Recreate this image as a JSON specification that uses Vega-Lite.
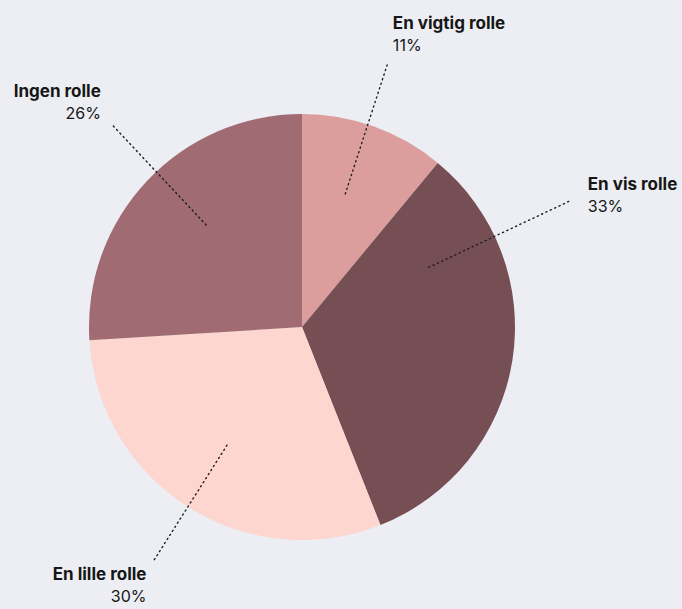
{
  "$schema": "https://vega.github.io/schema/vega-lite/v6.json",
  "width": 604,
  "height": 564,
  "autosize": {"type": "none"},
  "padding": {"left": 0, "top": 45, "right": 78, "bottom": 0},
  "background": "#eceef3",
  "config": {"view": {"stroke": null}, "font": "Inter"},
  "data": {
    "values": [
      {"category": "En vigtig rolle", "value": 11, "rank": 1},
      {"category": "En vis rolle", "value": 33, "rank": 2},
      {"category": "En lille rolle", "value": 30, "rank": 3},
      {"category": "Ingen rolle", "value": 26, "rank": 4}
    ]
  },
  "transform": [
    {"stack": "value", "groupby": [], "sort": [{"field": "rank", "order": "ascending"}], "as": ["v0", "v1"]},
    {"calculate": "(datum.v0 + datum.v1) / 2 + (datum.category === 'En vis rolle' ? -9.5 : datum.category === 'Ingen rolle' ? 1 : datum.category === 'En vigtig rolle' ? -0.5 : 0)", "as": "labelPos"},
    {"calculate": "datum.labelPos / 100 * 2 * PI", "as": "ang"},
    {"calculate": "140 * sin(datum.ang)", "as": "lx1"},
    {"calculate": "140 * cos(datum.ang)", "as": "ly1"},
    {"calculate": "(datum.category === 'En vis rolle' ? 298 : 277) * sin(datum.ang)", "as": "lx2"},
    {"calculate": "(datum.category === 'En vis rolle' ? 298 : 277) * cos(datum.ang)", "as": "ly2"},
    {"calculate": "datum.value + '%'", "as": "pct"}
  ],
  "layer": [
    {
      "mark": {"type": "arc", "outerRadius": 213},
      "encoding": {
        "theta": {"field": "v0", "type": "quantitative", "stack": null, "scale": {"domain": [0, 100]}},
        "theta2": {"field": "v1"},
        "color": {
          "field": "category",
          "type": "nominal",
          "scale": {
            "domain": ["En vigtig rolle", "En vis rolle", "En lille rolle", "Ingen rolle"],
            "range": ["#dc9e9c", "#764f55", "#fcd6cf", "#a06b73"]
          },
          "legend": null
        }
      }
    },
    {
      "mark": {"type": "rule", "stroke": "#1e1e1e", "strokeWidth": 1.4, "strokeDash": [1.2, 3.6], "strokeCap": "round"},
      "encoding": {
        "x": {"field": "lx1", "type": "quantitative", "scale": {"domain": [-302, 302], "nice": false, "zero": false}, "axis": null},
        "y": {"field": "ly1", "type": "quantitative", "scale": {"domain": [-282, 282], "nice": false, "zero": false}, "axis": null},
        "x2": {"field": "lx2"},
        "y2": {"field": "ly2"}
      }
    },
    {
      "mark": {
        "type": "text",
        "radius": 307,
        "fontSize": 17,
        "fontWeight": 700,
        "color": "#161616",
        "baseline": "alphabetic",
        "dy": -6,
        "dx": {"expr": "datum.labelPos < 50 ? (datum.category === 'En vis rolle' ? 8 : -4) : 9"},
        "align": {"expr": "datum.labelPos < 50 ? 'left' : 'right'"}
      },
      "encoding": {
        "theta": {"field": "labelPos", "type": "quantitative", "stack": null, "scale": {"domain": [0, 100]}},
        "text": {"field": "category", "type": "nominal"}
      }
    },
    {
      "mark": {
        "type": "text",
        "radius": 307,
        "fontSize": 16,
        "fontWeight": 400,
        "color": "#161616",
        "baseline": "alphabetic",
        "dy": 16,
        "dx": {"expr": "datum.labelPos < 50 ? (datum.category === 'En vis rolle' ? 8 : -4) : 9"},
        "align": {"expr": "datum.labelPos < 50 ? 'left' : 'right'"}
      },
      "encoding": {
        "theta": {"field": "labelPos", "type": "quantitative", "stack": null, "scale": {"domain": [0, 100]}},
        "text": {"field": "pct", "type": "nominal"}
      }
    }
  ]
}
